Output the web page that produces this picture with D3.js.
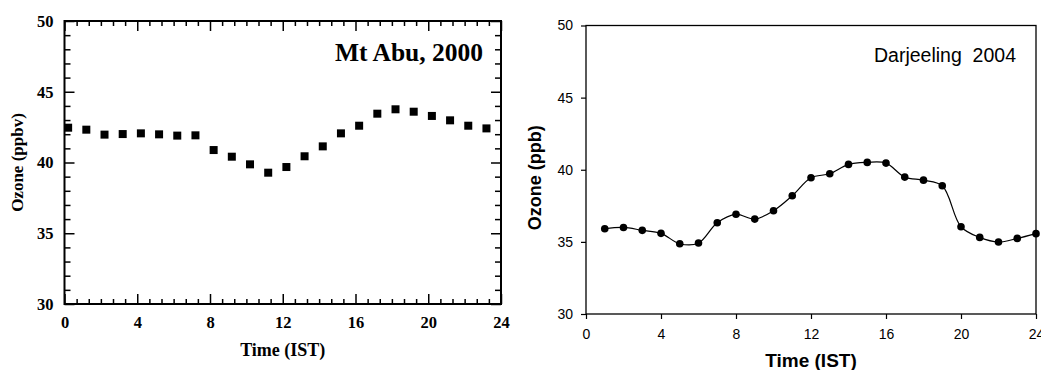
<!DOCTYPE html>
<html>
<head>
<meta charset="utf-8">
<script src="https://cdn.jsdelivr.net/npm/d3@7"></script>
<style>
  html, body { margin: 0; padding: 0; background: #fff; }
  svg { display: block; }
</style>
</head>
<body>
<svg id="chart" width="1041" height="370"></svg>
<script>
// ---- Data ----
const abuHours = [0.2,1.2,2.2,3.2,4.2,5.2,6.2,7.2,8.2,9.2,10.2,11.2,12.2,13.2,14.2,15.2,16.2,17.2,18.2,19.2,20.2,21.2,22.2,23.2];
const abuOzone = [42.46,42.32,41.97,42.01,42.06,41.99,41.90,41.92,40.88,40.41,39.87,39.28,39.68,40.44,41.14,42.06,42.60,43.45,43.76,43.59,43.29,42.98,42.60,42.41];

const darjHours = [1,2,3,4,5,6,7,8,9,10,11,12,13,14,15,16,17,18,19,20,21,22,23,24];
const darjOzone = [35.91,36.00,35.80,35.59,34.87,34.92,36.33,36.91,36.58,37.16,38.20,39.45,39.72,40.37,40.51,40.46,39.49,39.28,38.89,36.05,35.31,34.99,35.24,35.57];

const xTicks = [0,4,8,12,16,20,24];
const yTicks = [30,35,40,45,50];
const xDomain = [0,24];
const yDomain = [30,50];

const abuTitle = "Mt Abu, 2000";
const abuXLabel = "Time (IST)";
const abuYLabel = "Ozone (ppbv)";
const darjTitle = "Darjeeling  2004";
const darjXLabel = "Time (IST)";
const darjYLabel = "Ozone (ppb)";

const svg = d3.select("#chart");

// ================= Left panel: Mt Abu =================
(function(){
  const L = 64.5, R = 501, T = 21, B = 304;
  const serif = "'Liberation Serif','Times New Roman',Times,serif";
  const x = d3.scaleLinear().domain(xDomain).range([L, R]);
  const y = d3.scaleLinear().domain(yDomain).range([B, T]);
  const g = svg.append("g");

  const xMinor = d3.range(0, 24.0001, 4/6).filter(v => Math.abs(v/4 - Math.round(v/4)) > 1e-6);
  const yMinor = d3.range(30, 50.0001, 1).filter(v => v % 5 !== 0);

  function style(sel, labels) {
    sel.select(".domain").remove();
    sel.selectAll("line").attr("stroke", "#000").attr("stroke-width", 1.5);
    sel.selectAll("text")
      .attr("font-family", serif).attr("font-weight", "bold")
      .attr("font-size", 16.5).attr("fill", "#000");
    if (!labels) sel.selectAll("text").remove();
  }

  // bottom
  g.append("g").attr("transform", `translate(0,${B})`)
    .call(d3.axisBottom(x).tickValues(xTicks).tickSize(-10).tickPadding(12).tickFormat(d3.format("d")))
    .call(s => style(s, true));
  g.append("g").attr("transform", `translate(0,${B})`)
    .call(d3.axisBottom(x).tickValues(xMinor).tickSize(-5).tickFormat(""))
    .call(s => style(s, false));
  // top
  g.append("g").attr("transform", `translate(0,${T})`)
    .call(d3.axisTop(x).tickValues(xTicks).tickSize(-10).tickFormat(""))
    .call(s => style(s, false));
  g.append("g").attr("transform", `translate(0,${T})`)
    .call(d3.axisTop(x).tickValues(xMinor).tickSize(-5).tickFormat(""))
    .call(s => style(s, false));
  // left
  g.append("g").attr("transform", `translate(${L},0)`)
    .call(d3.axisLeft(y).tickValues(yTicks).tickSize(-10).tickPadding(11).tickFormat(d3.format("d")))
    .call(s => style(s, true));
  g.append("g").attr("transform", `translate(${L},0)`)
    .call(d3.axisLeft(y).tickValues(yMinor).tickSize(-6).tickFormat(""))
    .call(s => style(s, false));
  // right
  g.append("g").attr("transform", `translate(${R},0)`)
    .call(d3.axisRight(y).tickValues(yTicks).tickSize(-10).tickFormat(""))
    .call(s => style(s, false));
  g.append("g").attr("transform", `translate(${R},0)`)
    .call(d3.axisRight(y).tickValues(yMinor).tickSize(-6).tickFormat(""))
    .call(s => style(s, false));

  g.append("rect").attr("x", L).attr("y", T).attr("width", R - L).attr("height", B - T)
    .attr("fill", "none").attr("stroke", "#000").attr("stroke-width", 2);

  const sq = 8;
  g.append("g").selectAll("rect.pt")
    .data(abuHours.map((h, i) => [h, abuOzone[i]]))
    .join("rect").attr("class", "pt")
    .attr("x", d => x(d[0]) - sq/2).attr("y", d => y(d[1]) - sq/2)
    .attr("width", sq).attr("height", sq).attr("fill", "#000");

  g.append("text").attr("x", 483).attr("y", 61).attr("text-anchor", "end")
    .attr("font-family", serif).attr("font-weight", "bold").attr("font-size", 25.5)
    .text(abuTitle);
  g.append("text").attr("x", (L + R)/2).attr("y", 356).attr("text-anchor", "middle")
    .attr("font-family", serif).attr("font-weight", "bold").attr("font-size", 18)
    .text(abuXLabel);
  g.append("text").attr("transform", `translate(23,${(T + B)/2}) rotate(-90)`)
    .attr("text-anchor", "middle")
    .attr("font-family", serif).attr("font-weight", "bold").attr("font-size", 17)
    .text(abuYLabel);
})();

// ================= Right panel: Darjeeling =================
(function(){
  const L = 586, R = 1036, T = 25.5, B = 314;
  const sans = "'Liberation Sans',Arial,Helvetica,sans-serif";
  const x = d3.scaleLinear().domain(xDomain).range([L, R]);
  const y = d3.scaleLinear().domain(yDomain).range([B, T]);
  const g = svg.append("g");

  function style(sel) {
    sel.select(".domain").remove();
    sel.selectAll("line").attr("stroke", "#000").attr("stroke-width", 1.2);
    sel.selectAll("text").attr("font-family", sans).attr("font-size", 14).attr("fill", "#000");
  }
  g.append("g").attr("transform", `translate(0,${B})`)
    .call(d3.axisBottom(x).tickValues(xTicks).tickSize(5).tickPadding(10).tickFormat(d3.format("d")))
    .call(style);
  g.append("g").attr("transform", `translate(${L},0)`)
    .call(d3.axisLeft(y).tickValues(yTicks).tickSize(5).tickPadding(8).tickFormat(d3.format("d")))
    .call(style);

  g.append("rect").attr("x", L).attr("y", T).attr("width", R - L).attr("height", B - T)
    .attr("fill", "none").attr("stroke", "#000").attr("stroke-width", 1.3);

  const pts = darjHours.map((h, i) => [h, darjOzone[i]]);
  const line = d3.line().x(d => x(d[0])).y(d => y(d[1])).curve(d3.curveCatmullRom.alpha(0.5));
  g.append("path").datum(pts).attr("d", line)
    .attr("fill", "none").attr("stroke", "#000").attr("stroke-width", 1.2);
  g.append("g").selectAll("circle").data(pts).join("circle")
    .attr("cx", d => x(d[0])).attr("cy", d => y(d[1])).attr("r", 3.8).attr("fill", "#000");

  g.append("text").attr("x", 1016).attr("y", 62).attr("text-anchor", "end")
    .attr("font-family", sans).attr("font-size", 19.5)
    .style("white-space", "pre").attr("xml:space", "preserve")
    .text(darjTitle);
  g.append("text").attr("x", (L + R)/2).attr("y", 367).attr("text-anchor", "middle")
    .attr("font-family", sans).attr("font-weight", "bold").attr("font-size", 19)
    .text(darjXLabel);
  g.append("text").attr("transform", `translate(541,${(T + B)/2 + 8}) rotate(-90)`)
    .attr("text-anchor", "middle")
    .attr("font-family", sans).attr("font-weight", "bold").attr("font-size", 18)
    .text(darjYLabel);
})();
</script>
</body>
</html>
